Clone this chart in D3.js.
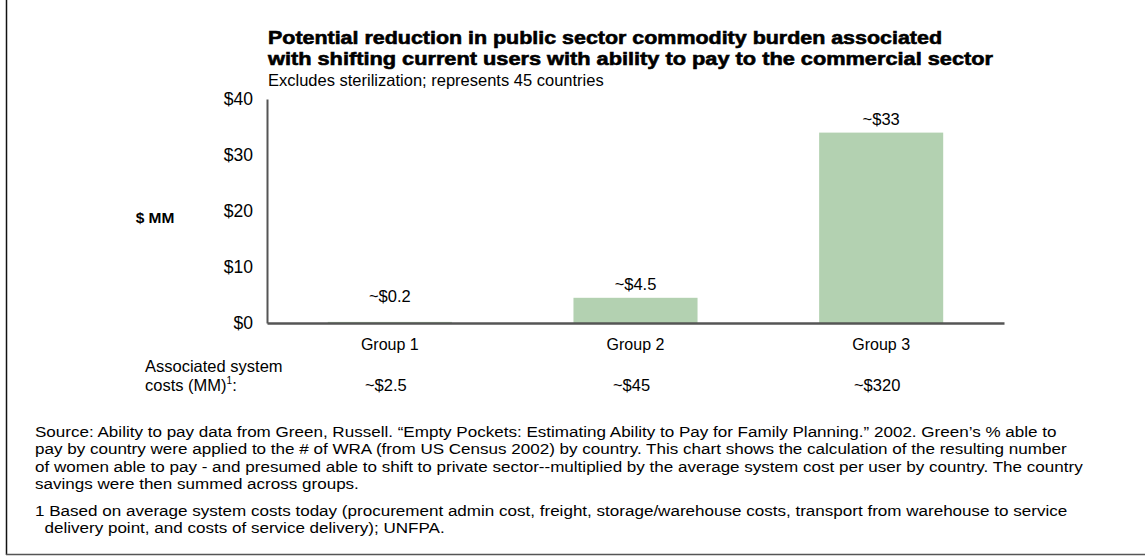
<!DOCTYPE html>
<html>
<head>
<meta charset="utf-8">
<script src="https://cdn.jsdelivr.net/npm/d3@7"></script>
<style>
  body { margin: 0; background: #fff; }
  text { font-family: "Liberation Sans", Arial, sans-serif; fill: #000; }
</style>
</head>
<body>
<svg id="chart" width="1145" height="556"></svg>
<script>
'use strict';

let groups = ['Group 1', 'Group 2', 'Group 3']
let savings = [0.2, 4.5, 34]
let savingsLabels = ['~$0.2', '~$4.5', '~$33']
let systemCosts = ['~$2.5', '~$45', '~$320']
let yTicks = [0, 10, 20, 30, 40]

let titleLines = [
    'Potential reduction in public sector commodity burden associated',
    'with shifting current users with ability to pay to the commercial sector'
]
let subtitle = 'Excludes sterilization; represents 45 countries'
let sourceLines = [
    'Source: Ability to pay data from Green, Russell. \u201cEmpty Pockets: Estimating Ability to Pay for Family Planning.\u201d 2002. Green\u2019s % able to',
    'pay by country were applied to the # of WRA (from US Census 2002) by country. This chart shows the calculation of the resulting number',
    'of women able to pay - and presumed able to shift to private sector--multiplied by the average system cost per user by country. The country',
    'savings were then summed across groups.'
]
let noteLines = [
    '1 Based on average system costs today (procurement admin cost, freight, storage/warehouse costs, transport from warehouse to service',
    '  delivery point, and costs of service delivery); UNFPA.'
]

let svg = d3.select('#chart')

// frame: left and bottom edge only
svg.append('line').attr('x1', 6.5).attr('x2', 6.5).attr('y1', 0).attr('y2', 555)
    .attr('stroke', '#111').attr('stroke-width', 1.5)
svg.append('line').attr('x1', 6).attr('x2', 1145).attr('y1', 554.5).attr('y2', 554.5)
    .attr('stroke', '#555').attr('stroke-width', 1.5)

let plotL = 267, plotR = 1004, plotT = 99, base = 323

let x = d3.scaleBand().domain(groups).range([plotL, plotR])
    .paddingInner(0.495).paddingOuter(0.2475)
let y = d3.scaleLinear().domain([0, 40]).range([base, plotT])

// title block - heavy face, stretched to the original's width
let titleW = [674, 725]
svg.append('g').selectAll('text').data(titleLines).join('text')
    .attr('x', 268).attr('y', (d, i) => 44 + i * 21)
    .attr('font-size', 18.5).attr('font-weight', 'bold')
    .attr('stroke', '#000').attr('stroke-width', 0.6)
    .attr('textLength', (d, i) => titleW[i])
    .attr('lengthAdjust', 'spacingAndGlyphs')
    .text(d => d)
svg.append('text').attr('x', 268).attr('y', 86)
    .attr('font-size', 16.5).text(subtitle)

// bars
svg.append('g').selectAll('rect').data(groups).join('rect')
    .attr('x', d => x(d))
    .attr('width', x.bandwidth())
    .attr('y', (d, i) => y(savings[i]))
    .attr('height', (d, i) => base - y(savings[i]))
    .attr('fill', '#b3d1b1')

svg.append('g').selectAll('text').data(groups).join('text')
    .attr('x', d => x(d) + x.bandwidth() / 2)
    .attr('y', (d, i) => Math.min(y(savings[i]), base - 13) - 8)
    .attr('text-anchor', 'middle').attr('font-size', 16.5)
    .text((d, i) => savingsLabels[i])

// y axis
let yAxis = svg.append('g').attr('transform', 'translate(' + plotL + ',0)')
    .call(d3.axisLeft(y).tickValues(yTicks).tickSize(0).tickPadding(14)
        .tickFormat(d => '$' + d))
yAxis.select('.domain').attr('stroke', '#555').attr('stroke-width', 2)
yAxis.selectAll('text').attr('font-size', 17.5)
    .style('font-family', '"Liberation Sans", Arial, sans-serif')

// x axis
let xAxis = svg.append('g').attr('transform', 'translate(0,' + base + ')')
    .call(d3.axisBottom(x).tickSize(0).tickPadding(16))
xAxis.select('.domain').attr('stroke', '#555').attr('stroke-width', 2.5)
xAxis.selectAll('text').attr('font-size', 16)
    .style('font-family', '"Liberation Sans", Arial, sans-serif')

svg.append('text').attr('x', 155).attr('y', 223)
    .attr('text-anchor', 'middle').attr('font-size', 15.5).attr('font-weight', 'bold')
    .text('$ MM')

// associated system costs row
svg.append('text').attr('x', 145).attr('y', 372).attr('font-size', 16.5)
    .text('Associated system')
let costLbl = svg.append('text').attr('x', 145).attr('y', 391).attr('font-size', 16.5)
costLbl.append('tspan').text('costs (MM)')
costLbl.append('tspan').attr('font-size', 10).attr('dy', -7).text('1')
costLbl.append('tspan').attr('dy', 7).text(':')

svg.append('g').selectAll('text').data(groups).join('text')
    .attr('x', d => x(d) + x.bandwidth() / 2 - 4)
    .attr('y', 391)
    .attr('text-anchor', 'middle').attr('font-size', 16.5)
    .text((d, i) => systemCosts[i])

// source and footnote (original text is a little wide for its height)
let notes = svg.append('g').attr('transform', 'translate(35,0) scale(1.1,1)')
notes.selectAll('text.src').data(sourceLines).join('text')
    .attr('class', 'src')
    .attr('x', 0).attr('y', (d, i) => 437 + i * 17.5)
    .attr('font-size', 15.5)
    .text(d => d)
notes.selectAll('text.fn').data(noteLines).join('text')
    .attr('class', 'fn')
    .attr('x', 0).attr('y', (d, i) => 516 + i * 17)
    .attr('font-size', 15.5)
    .style('white-space', 'pre')
    .text(d => d)
</script>
</body>
</html>
